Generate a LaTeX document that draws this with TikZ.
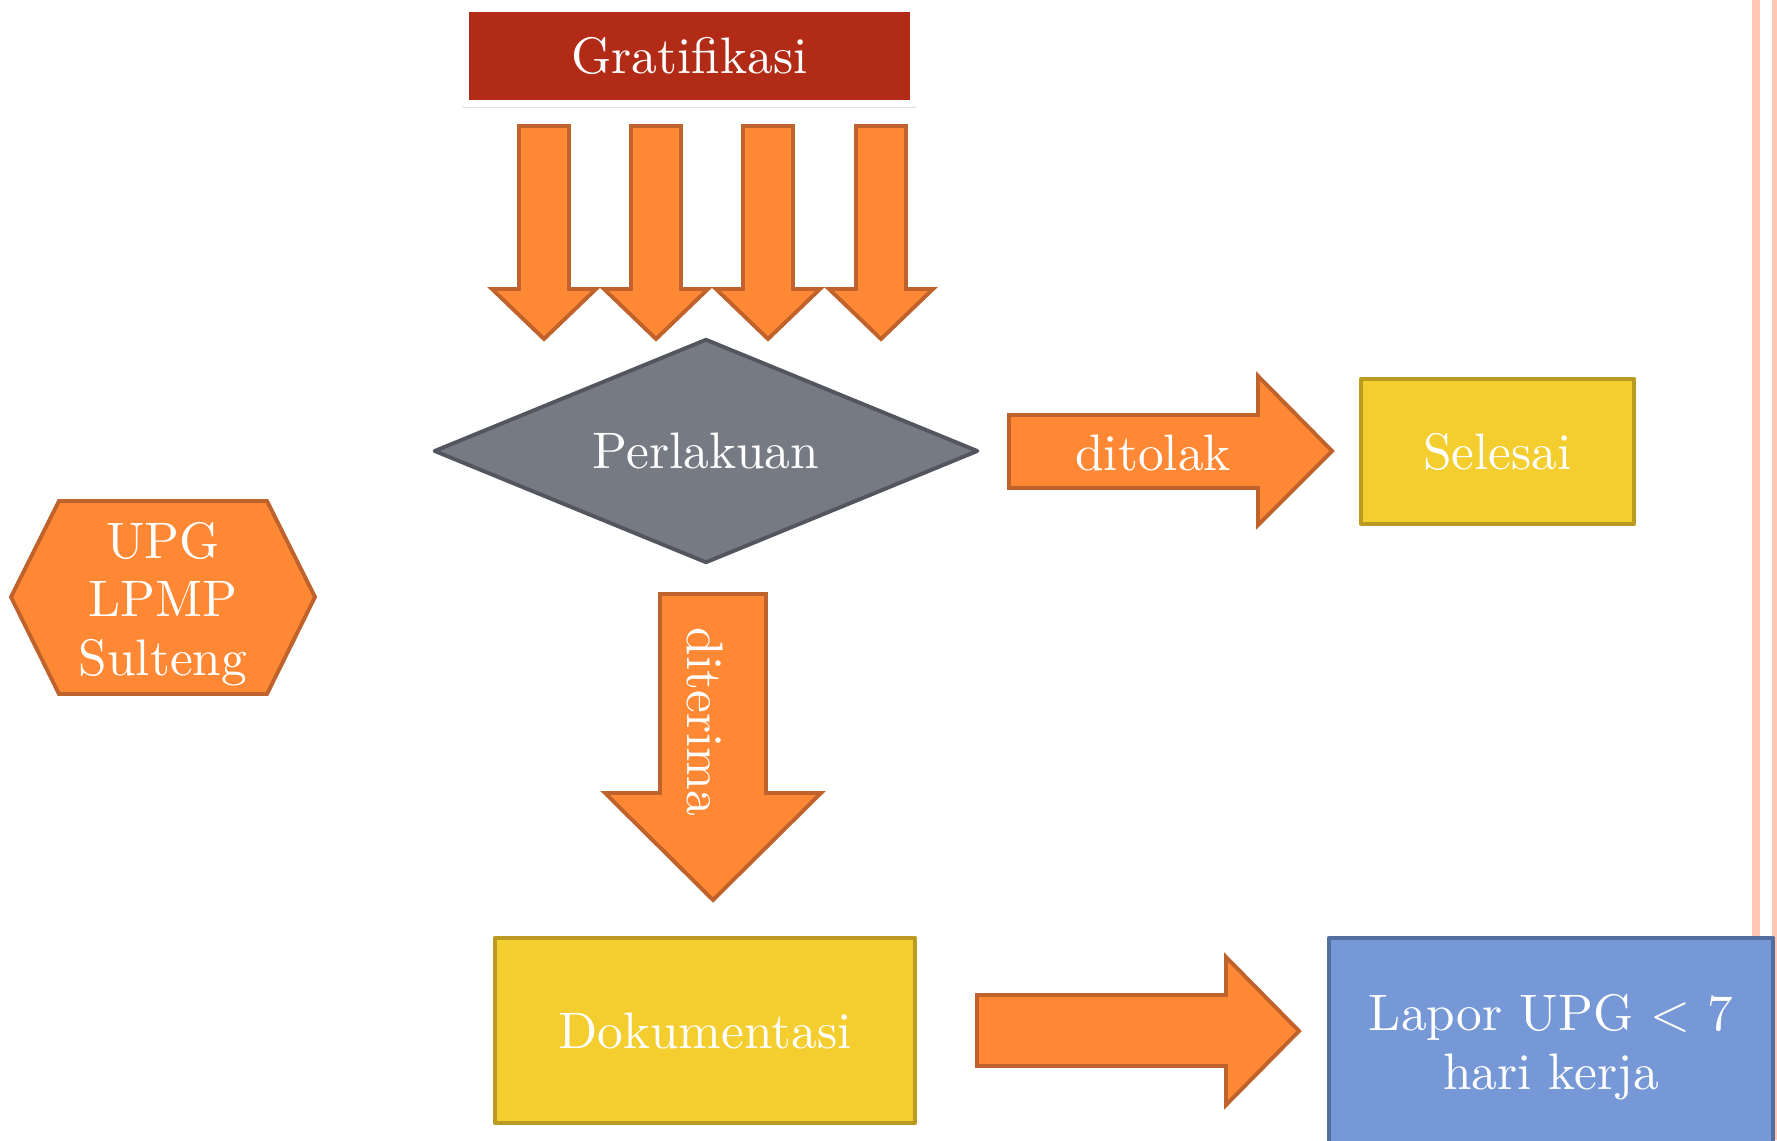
\documentclass[tikz,border=0pt]{standalone}
\usetikzlibrary{shapes.geometric,shadows}
\definecolor{oranye}{HTML}{FF8835}
\definecolor{oranyetua}{HTML}{C0622B}
\definecolor{merah}{HTML}{B22B17}
\definecolor{abu}{HTML}{767A83}
\definecolor{abutua}{HTML}{53565E}
\definecolor{kuning}{HTML}{F4CD2E}
\definecolor{kuningtua}{HTML}{BA9A20}
\definecolor{biru}{HTML}{7698D6}
\definecolor{birutua}{HTML}{526FA0}
\definecolor{garis}{HTML}{FFC8B4}
\font\hurufslide="[lmroman10-regular.otf]:mapping=tex-text" at 14.6pt
\newcommand\gayaslide{\hurufslide\baselineskip=16.7pt\relax}
\begin{document}
\begin{tikzpicture}[x=0.01cm, y=-0.01cm, line join=round, font=\gayaslide,
    panah/.style={fill=oranye, draw=oranyetua, line width=1.1pt, line join=miter},
    kotak/.style={rectangle, text=white, inner sep=0pt, line width=1.1pt}]
            \useasboundingbox (0,0) rectangle (1777,1140);
            \fill[garis] (1752,0) rectangle (1760,1140);
            \fill[garis] (1772,0) rectangle (1777,1140);

            \node[kotak, fill=merah, draw=white, line width=2pt, minimum width=4.48cm, minimum height=0.95cm,
                drop shadow={shadow xshift=0pt, shadow yshift=-1.2pt, shadow scale=1.012, opacity=0.25}] (gratifikasi) at (689.5,56) {Gratifikasi};

            \draw[panah] (519,126)--(569,126)--(569,289)--(596,289)--(544,339)--(492,289)--(519,289)--cycle;
            \draw[panah] (631,126)--(681,126)--(681,289)--(708,289)--(656,339)--(604,289)--(631,289)--cycle;
            \draw[panah] (743,126)--(793,126)--(793,289)--(820,289)--(768,339)--(716,289)--(743,289)--cycle;
            \draw[panah] (856,126)--(906,126)--(906,289)--(933,289)--(881,339)--(829,289)--(856,289)--cycle;

            \node[diamond, aspect=2.43, inner sep=0pt, fill=abu, draw=abutua, line width=1.1pt, text=white,
                minimum width=5.44cm, minimum height=2.24cm] (perlakuan) at (706,451) {Perlakuan};

            \draw[panah] (1009,415)--(1258,415)--(1258,376)--(1332,451)--(1258,525)--(1258,488)--(1009,488)--cycle;
            \node[text=white] (ditolak) at (1153,453) {ditolak};
            \node[kotak, fill=kuning, draw=kuningtua, minimum width=2.73cm, minimum height=1.45cm] (selesai) at (1497.5,451.5) {Selesai};

            \draw[panah] (11,597)--(59,501)--(267,501)--(315,597)--(267,694)--(59,694)--cycle;
            \node[text=white, align=center] (upg) at (163,604) {UPG\\LPMP\\Sulteng};

            \draw[panah] (660,594)--(766,594)--(766,793)--(821,793)--(713,900)--(605,793)--(660,793)--cycle;
            \node[text=white, rotate=-90] (diterima) at (705,722) {diterima};

            \node[kotak, fill=kuning, draw=kuningtua, minimum width=4.2cm, minimum height=1.85cm] (dokumentasi) at (705,1030.5) {Dokumentasi};
            \draw[panah] (977,995)--(1226,995)--(1226,957)--(1299,1031)--(1226,1105)--(1226,1066)--(977,1066)--cycle;
            \node[kotak, fill=biru, draw=birutua, align=center, minimum width=4.44cm, minimum height=2.18cm] (lapor) at (1551,1047) {Lapor UPG < 7\\hari kerja};
        \end{tikzpicture}
\end{document}
